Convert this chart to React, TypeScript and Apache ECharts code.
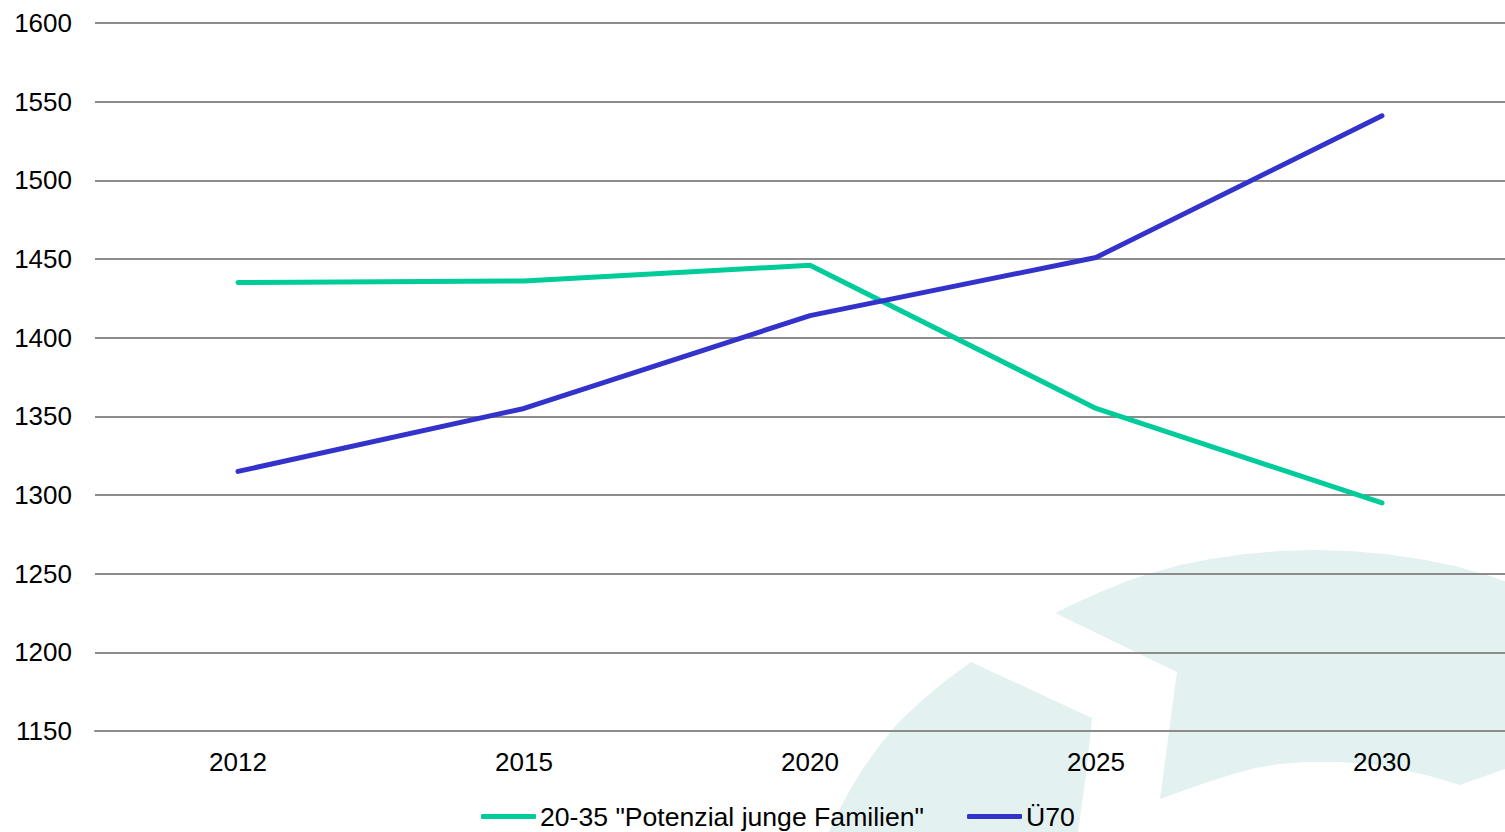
import React, { useEffect, useRef } from "react";
import * as echarts from "echarts";

const years = ["2012", "2015", "2020", "2025", "2030"];
const youngFamilies = [1435, 1436, 1446, 1355, 1295];
const over70 = [1315, 1355, 1414, 1451, 1541];
const seriesNames = ['20-35 "Potenzial junge Familien"', "Ü70"];
const yMin = 1150;
const yMax = 1600;
const yStep = 50;

const FONT = "'Liberation Sans', Arial, sans-serif";

export default function App() {
  const ref = useRef<HTMLDivElement>(null);
  useEffect(() => {
    document.body.style.margin = "0";
    document.body.style.overflow = "hidden";
    const chart = echarts.init(ref.current!, undefined, { renderer: "svg" });
    const wm = "#E3F1F0";
    chart.setOption({
      animation: false,
      backgroundColor: "#ffffff",
      textStyle: { fontFamily: FONT },
      grid: { left: 95, right: 0, top: 23, bottom: 101, containLabel: false },
      graphic: [
        {
          type: "polygon",
          z: -10,
          silent: true,
          shape: {
            points: [
              [1055, 613], [1080, 601], [1105, 590], [1130, 580], [1155, 572],
              [1180, 565], [1210, 559], [1245, 554], [1280, 551], [1315, 550],
              [1350, 551], [1385, 554], [1420, 559], [1455, 566], [1490, 576],
              [1530, 590], [1530, 760], [1460, 785], [1430, 776], [1400, 769],
              [1370, 764], [1340, 762], [1305, 762], [1280, 764], [1255, 768],
              [1230, 775], [1205, 783], [1160, 799], [1177, 672],
            ],
          },
          style: { fill: wm },
        },
        {
          type: "polygon",
          z: -10,
          silent: true,
          shape: {
            points: [
              [971, 662], [1092, 718], [1086, 775], [1078, 832], [829, 832],
              [838, 812], [850, 790], [864, 767], [880, 745], [898, 723],
              [920, 702], [945, 681],
            ],
          },
          style: { fill: wm },
        },
      ],
      legend: {
        left: 481,
        top: 803,
        padding: 0,
        itemWidth: 55,
        itemHeight: 5,
        itemGap: 43,
        icon: "roundRect",
        textStyle: { fontSize: 26.6, color: "#000", fontFamily: FONT, padding: [0, 0, 0, -1] },
        data: seriesNames,
      },
      xAxis: {
        type: "category",
        data: years,
        boundaryGap: true,
        axisLine: { show: true, lineStyle: { color: "#8c8c8c", width: 2 } },
        axisTick: { show: false },
        axisLabel: { fontSize: 26, color: "#000", margin: 18, fontFamily: FONT },
      },
      yAxis: {
        type: "value",
        min: yMin,
        max: yMax,
        interval: yStep,
        axisLine: { show: false },
        axisTick: { show: false },
        axisLabel: {
          fontSize: 26,
          color: "#000",
          margin: 23,
          fontFamily: FONT,
          formatter: (v: number) => String(v),
        },
        splitLine: { lineStyle: { color: "#8c8c8c", width: 2 } },
      },
      series: [
        {
          name: seriesNames[0],
          type: "line",
          data: youngFamilies,
          symbol: "none",
          lineStyle: { color: "#00CC99", width: 5, cap: "round" },
          itemStyle: { color: "#00CC99" },
        },
        {
          name: seriesNames[1],
          type: "line",
          data: over70,
          symbol: "none",
          lineStyle: { color: "#3333CC", width: 5, cap: "round" },
          itemStyle: { color: "#3333CC" },
        },
      ],
    });
    return () => chart.dispose();
  }, []);
  return (
    <div style={{ position: "fixed", left: 0, top: 0, width: 1505, height: 832, overflow: "hidden" }}>
      <div ref={ref} style={{ width: 1525, height: 832 }} />
    </div>
  );
}
